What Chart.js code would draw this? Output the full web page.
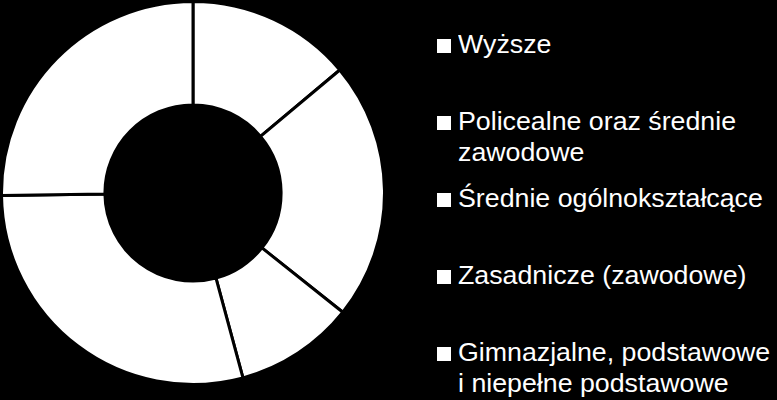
<!DOCTYPE html>
<html>
<head>
<meta charset="utf-8">
<script src="https://cdn.jsdelivr.net/npm/chart.js@4"></script>
<style>
  html, body { margin: 0; padding: 0; background: #000; width: 777px; height: 400px; overflow: hidden; }
  #chartBox { position: absolute; left: 0; top: 0; width: 386px; height: 386px; }
  #legend { position: absolute; left: 437px; top: 29px; font-family: "Liberation Sans", Arial, sans-serif; font-size: 25px; color: #fff; }
  .item { position: relative; height: 77px; padding-left: 21px; line-height: 31px; white-space: nowrap; }
  .item span.txt { display: inline-block; transform: scaleX(1.07); transform-origin: left top; }
  .box { position: absolute; left: 0px; top: 10px; width: 14px; height: 14px; background: #fff; }
</style>
</head>
<body>
<div id="chartBox"><canvas id="myChart"></canvas></div>
<div id="legend"></div>
<script>
// education levels, share in %
const labels = [
  ["Wyższe"],
  ["Policealne oraz średnie", "zawodowe"],
  ["Średnie ogólnokształcące"],
  ["Zasadnicze (zawodowe)"],
  ["Gimnazjalne, podstawowe", "i niepełne podstawowe"],
];
const shares = [13.9, 21.8, 10.1, 29.0, 25.2];

// #################### Legend ####################

const legend = document.getElementById("legend");
for (let lines of labels) {
  let item = document.createElement("div");
  item.className = "item";
  item.innerHTML = `<span class="box"></span><span class="txt">` + lines.join("<br>") + `</span>`;
  legend.appendChild(item);
}

// #################### Chart.JS ####################

const ctx = document.getElementById("myChart");
const myChart = new Chart(ctx, {
  type: "doughnut",
  data: {
    labels: labels.map((l) => l.join(" ")),
    datasets: [
      {
        data: shares,
        backgroundColor: "#ffffff",
        borderColor: "#000000",
        borderWidth: 3,
      },
    ],
  },
  options: {
    responsive: true,
    maintainAspectRatio: false,
    animation: false,
    cutout: "46%",
    layout: { padding: 0 },
    plugins: {
      legend: { display: false },
      tooltip: { enabled: false },
    },
  },
});
</script>
</body>
</html>
